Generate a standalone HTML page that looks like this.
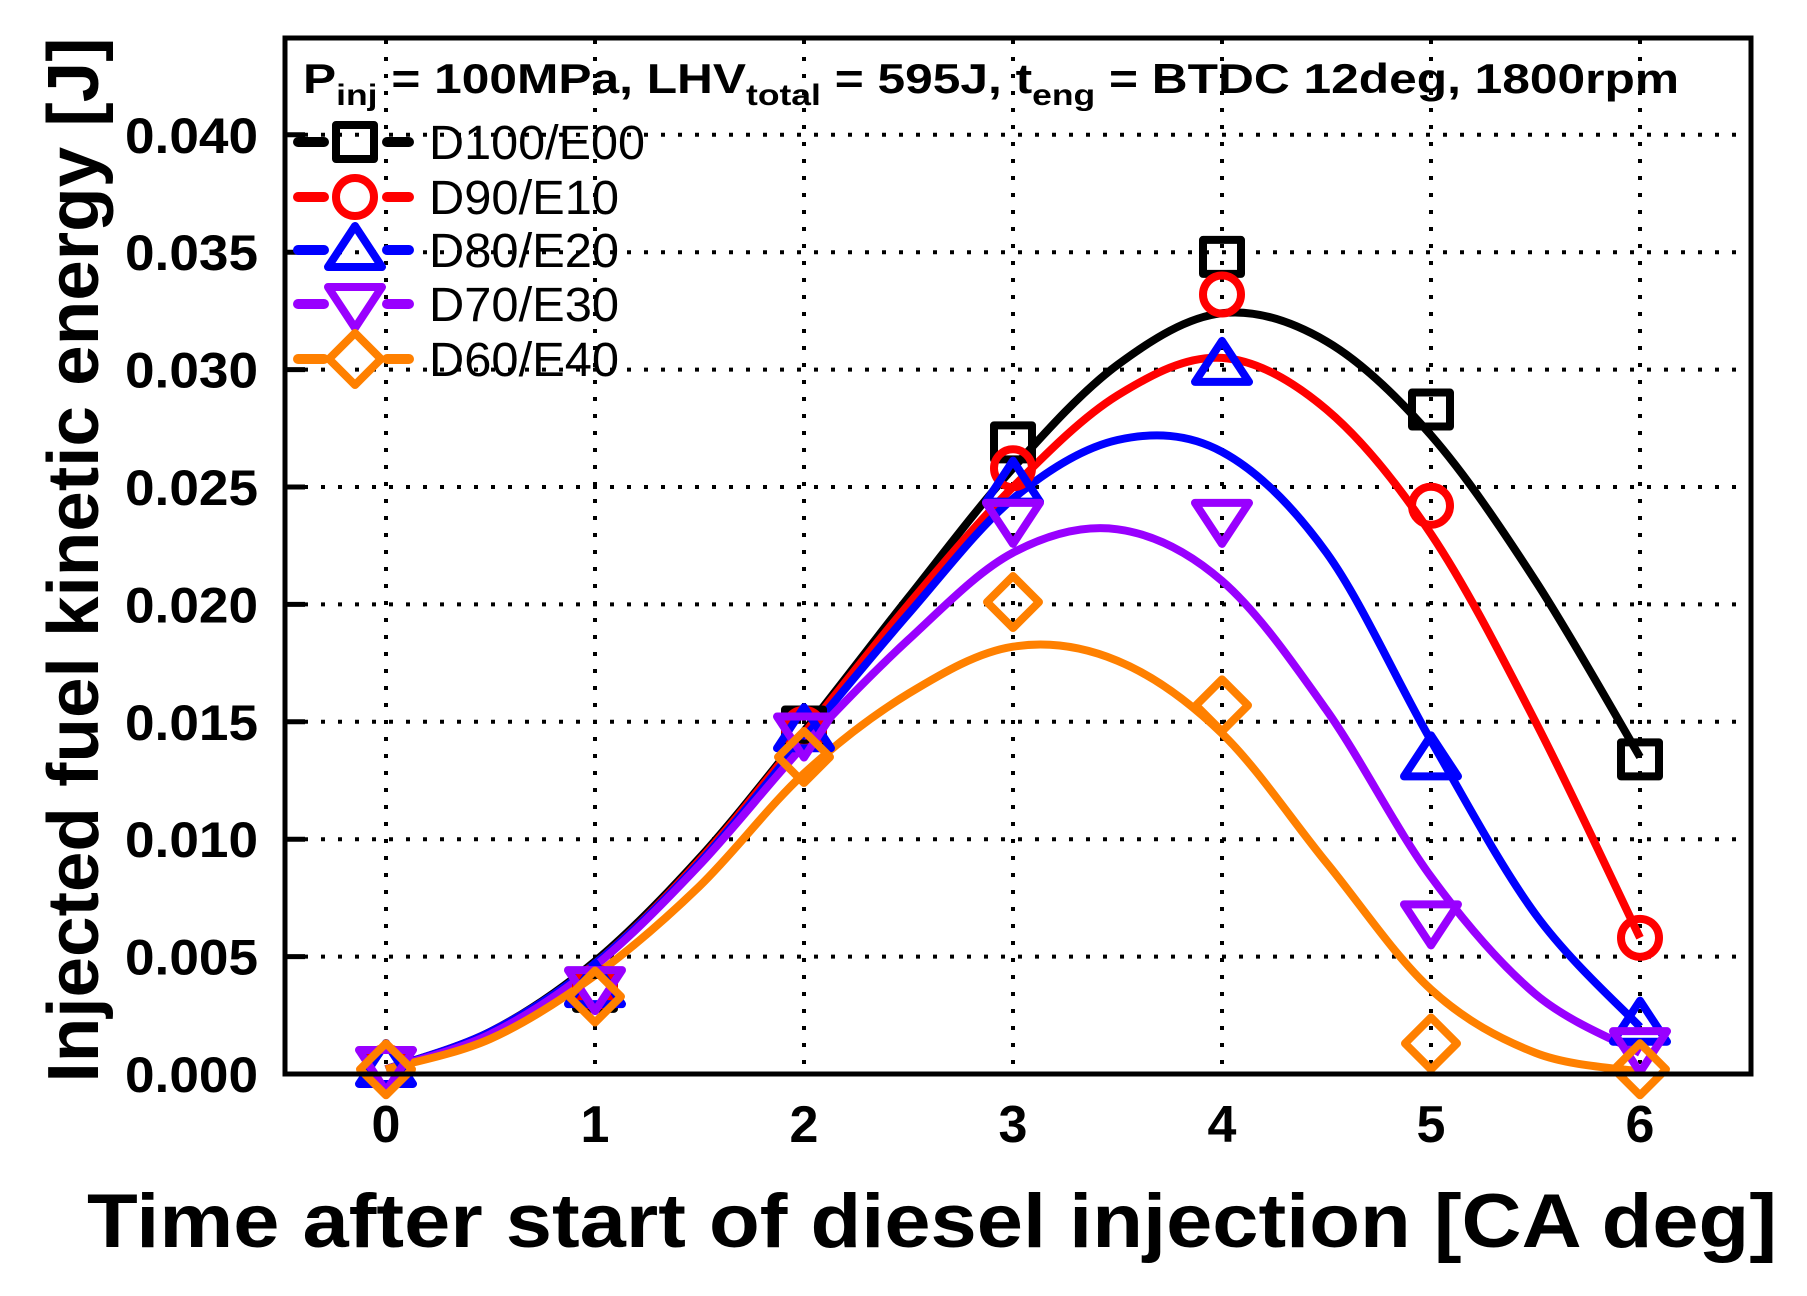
<!DOCTYPE html>
<html><head><meta charset="utf-8"><style>
html,body{margin:0;padding:0;background:#fff;}
svg{display:block;font-family:"Liberation Sans",sans-serif;}
</style></head><body>
<svg id="chart" width="1807" height="1296" viewBox="0 0 1807 1296" xmlns="http://www.w3.org/2000/svg">
<g id="grid"></g>
<g id="curves"></g>
<g id="marks"></g>
<rect x="285" y="38" width="1466" height="1036" fill="none" stroke="#000" stroke-width="5"/>
<g id="ticks"></g>
<text x="303" y="93" font-size="42" font-weight="bold" textLength="1376" lengthAdjust="spacingAndGlyphs">P<tspan font-size="30" dy="12">inj</tspan><tspan dy="-12"> = 100MPa, LHV</tspan><tspan font-size="30" dy="12">total</tspan><tspan dy="-12"> = 595J, t</tspan><tspan font-size="30" dy="12">eng</tspan><tspan dy="-12"> = BTDC 12deg, 1800rpm</tspan></text>
<g id="legend"></g>
<text x="932" y="1247" font-size="76" font-weight="bold" text-anchor="middle" textLength="1690" lengthAdjust="spacingAndGlyphs">Time after start of diesel injection [CA deg]</text>
<text transform="translate(98,560) rotate(-90)" font-size="72" font-weight="bold" text-anchor="middle" textLength="1045" lengthAdjust="spacingAndGlyphs">Injected fuel kinetic energy [J]</text>
</svg>
<script>
const categories = [0,1,2,3,4,5,6];
const seriesNames = ["D100/E00","D90/E10","D80/E20","D70/E30","D60/E40"];
const d100 = [0.0003,0.0035,0.0148,0.0269,0.0348,0.0283,0.0134];
const d90 = [0.0003,0.0037,0.0147,0.0258,0.0332,0.0242,0.0058];
const d80 = [0.0003,0.0037,0.0146,0.0251,0.0302,0.0134,0.0021];
const d70 = [0.0003,0.0037,0.0145,0.0236,0.0236,0.0065,0.0011];
const d60 = [0.0002,0.0033,0.0135,0.0201,0.0157,0.0013,0.0002];
// fitted curve values at x = 0, 0.5, ..., 6
const fitX = [0,0.5,1,1.5,2,2.5,3,3.5,4,4.5,5,5.5,6];
const fit100 = [0.0002,0.0018,0.0048,0.0092,0.0146,0.0203,0.0258,0.0302,0.0324,0.0312,0.0272,0.0210,0.0135];
const fit90 = [0.0002,0.0018,0.0047,0.0091,0.0145,0.0200,0.0250,0.0289,0.0305,0.0283,0.0230,0.0150,0.0058];
const fit80 = [0.0002,0.0018,0.0047,0.0090,0.0143,0.0196,0.0245,0.0270,0.0265,0.0222,0.0142,0.0068,0.0020];
const fit70 = [0.0002,0.0017,0.0046,0.0089,0.0140,0.0185,0.0222,0.0232,0.0210,0.0155,0.0084,0.0034,0.0009];
const fit60 = [0.0002,0.0015,0.0042,0.0080,0.0128,0.0162,0.0182,0.0176,0.0145,0.0090,0.0036,0.0009,0.0001];
const yTicks = ["0.000","0.005","0.010","0.015","0.020","0.025","0.030","0.035","0.040"];
const xTicks = ["0","1","2","3","4","5","6"];
const colors = ["#000000","#ff0000","#0000ff","#9900ff","#ff8000"];
const shapes = ["square","circle","up","down","diamond"];
const allSeries = [d100,d90,d80,d70,d60];
const allFits = [fit100,fit90,fit80,fit70,fit60];

const NS="http://www.w3.org/2000/svg";
const X0=386, XS=209, Y0=1074, YS=117.4/0.005;
const xs = v => X0 + v*XS;
const ys = v => Y0 - v*YS;
function mk(tag, attrs, parent){const e=document.createElementNS(NS,tag);for(const k in attrs)e.setAttribute(k,attrs[k]);parent.appendChild(e);return e;}

const grid=document.getElementById('grid');
categories.forEach(c=>{
  const l=mk('line',{x1:xs(c),x2:xs(c),y1:40,y2:1072,stroke:'#000','stroke-width':4,'stroke-dasharray':'4 13'},grid);
  
  
});
yTicks.forEach(t=>{
  const v=parseFloat(t);
  const l=mk('line',{x1:287,x2:1749,y1:ys(v),y2:ys(v),stroke:'#000','stroke-width':4,'stroke-dasharray':'4 13'},grid);
  
  
  const tk=mk('line',{x1:285,x2:305,y1:ys(v),y2:ys(v),stroke:'#000','stroke-width':5},grid);
  
  
});
const ticks=document.getElementById('ticks');
yTicks.forEach(t=>{
  const e=mk('text',{x:258,y:ys(parseFloat(t))+18,'font-size':50,'font-weight':'bold','text-anchor':'end',textLength:133,lengthAdjust:'spacingAndGlyphs'},ticks);
  e.textContent=t;
  
  
});
xTicks.forEach((t,i)=>{
  const e=mk('text',{x:xs(categories[i]),y:1142,'font-size':52,'font-weight':'bold','text-anchor':'middle'},ticks);
  e.textContent=t;
  
  
});

function smoothPath(xv,yv){
  const P=xv.map((x,i)=>[xs(x),ys(yv[i])]);
  let d='M'+P[0][0].toFixed(1)+','+P[0][1].toFixed(1);
  for(let i=0;i<P.length-1;i++){
    const p0=P[Math.max(0,i-1)],p1=P[i],p2=P[i+1],p3=P[Math.min(P.length-1,i+2)];
    const c1=[p1[0]+(p2[0]-p0[0])/6,p1[1]+(p2[1]-p0[1])/6];
    const c2=[p2[0]-(p3[0]-p1[0])/6,p2[1]-(p3[1]-p1[1])/6];
    d+='C'+c1.map(v=>v.toFixed(1)).join(',')+' '+c2.map(v=>v.toFixed(1)).join(',')+' '+p2[0].toFixed(1)+','+p2[1].toFixed(1);
  }
  return d;
}
function marker(shape,cx,cy,color,parent){
  let e;
  const st={fill:'none',stroke:color,'stroke-width':8,'stroke-linejoin':'round'};
  if(shape==='square')e=mk('rect',Object.assign({x:cx-19,y:cy-17,width:38,height:34},st),parent);
  else if(shape==='circle')e=mk('ellipse',Object.assign({cx:cx,cy:cy,rx:19,ry:19},st),parent);
  else if(shape==='up')e=mk('polygon',Object.assign({points:`${cx},${cy-24} ${cx+27},${cy+17} ${cx-27},${cy+17}`},st),parent);
  else if(shape==='down')e=mk('polygon',Object.assign({points:`${cx},${cy+24} ${cx+27},${cy-17} ${cx-27},${cy-17}`},st),parent);
  else e=mk('polygon',Object.assign({points:`${cx},${cy-26} ${cx+26},${cy} ${cx},${cy+26} ${cx-26},${cy}`},st),parent);
  return e;
}
const curves=document.getElementById('curves'), marks=document.getElementById('marks');
allFits.forEach((f,si)=>{
  const path=mk('path',{d:smoothPath(fitX,f),fill:'none',stroke:colors[si],'stroke-width':8,'stroke-linejoin':'round'},curves);
  
  
});
allSeries.forEach((d,si)=>{
  d.forEach((v,i)=>{
    const m=marker(shapes[si],xs(categories[i]),ys(v),colors[si],marks);
    
    
  });
});
const legend=document.getElementById('legend');
const legY=[142,197,250,304,359];
seriesNames.forEach((n,i)=>{
  const g=mk('g',{},legend);
  
  
  const y=legY[i];
  mk('line',{x1:298,x2:324,y1:y,y2:y,stroke:colors[i],'stroke-width':10,'stroke-linecap':'round'},g);
  mk('line',{x1:387,x2:409,y1:y,y2:y,stroke:colors[i],'stroke-width':10,'stroke-linecap':'round'},g);
  marker(shapes[i],355,y,colors[i],g);
  const t=mk('text',{x:429,y:y+17,'font-size':48,textLength:(i===0?216:190),lengthAdjust:'spacingAndGlyphs'},g);
  t.textContent=n;
});
</script>
</body></html>
